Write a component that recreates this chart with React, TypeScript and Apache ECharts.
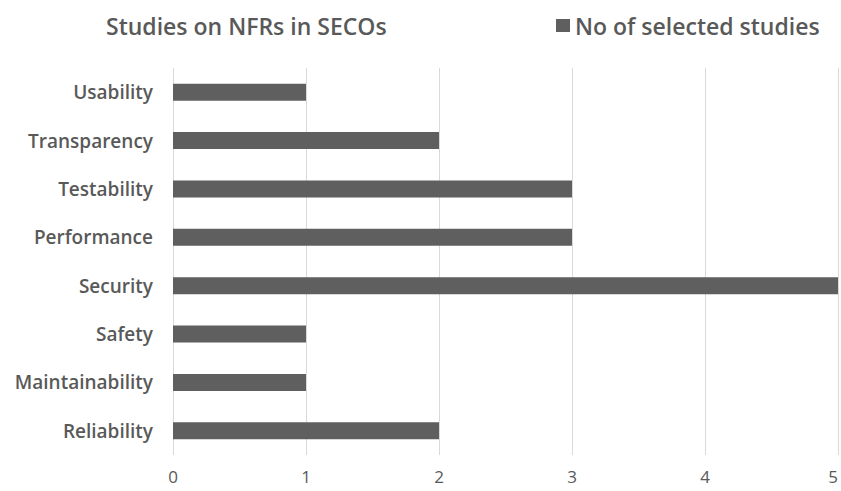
import React, { useEffect, useRef } from "react";
import * as echarts from "echarts";

const categories = [
  "Reliability",
  "Maintainability",
  "Safety",
  "Security",
  "Performance",
  "Testability",
  "Transparency",
  "Usability",
];
const studies = [2, 1, 1, 5, 3, 3, 2, 1];
const seriesName = "No of selected studies";
const titleText = "Studies on NFRs in SECOs";

export default function App() {
  const ref = useRef<HTMLDivElement>(null);
  useEffect(() => {
    if (!ref.current) return;
    const chart = echarts.init(ref.current, undefined, { renderer: "svg" });
    const font = "'Open Sans', 'Noto Sans', sans-serif";
    chart.setOption({
      animation: false,
      backgroundColor: "#ffffff",
      title: {
        text: titleText,
        left: 101,
        top: 9,
        textStyle: { color: "#595959", fontSize: 23, fontWeight: 600, fontFamily: font },
      },
      legend: {
        data: [seriesName],
        left: 551,
        top: 9,
        icon: "rect",
        itemWidth: 14,
        itemHeight: 13,
        itemGap: 8,
        textStyle: { color: "#595959", fontSize: 23, fontWeight: 600, fontFamily: font },
      },
      grid: { left: 173, right: 2, top: 68, bottom: 36, containLabel: false },
      xAxis: {
        type: "value",
        min: 0,
        max: 5,
        interval: 1,
        axisLine: { show: false },
        axisTick: { show: false },
        splitLine: { show: true, lineStyle: { color: "#d9d9d9", width: 1 } },
        axisLabel: {
          color: "#595959",
          fontSize: 17,
          lineHeight: 18,
          fontFamily: font,
          margin: 12,
          alignMaxLabel: "right",
        },
      },
      yAxis: {
        type: "category",
        data: categories,
        axisLine: { show: false },
        axisTick: { show: false },
        axisLabel: { color: "#595959", fontSize: 19, fontWeight: 600, fontFamily: font, margin: 20 },
      },
      series: [
        {
          name: seriesName,
          type: "bar",
          data: studies,
          barWidth: 17,
          itemStyle: { color: "#5f5f5f" },
        },
      ],
    });
    return () => chart.dispose();
  }, []);
  return (
    <div
      ref={ref}
      style={{ position: "fixed", left: 0, top: 0, width: 841, height: 491 }}
    />
  );
}
